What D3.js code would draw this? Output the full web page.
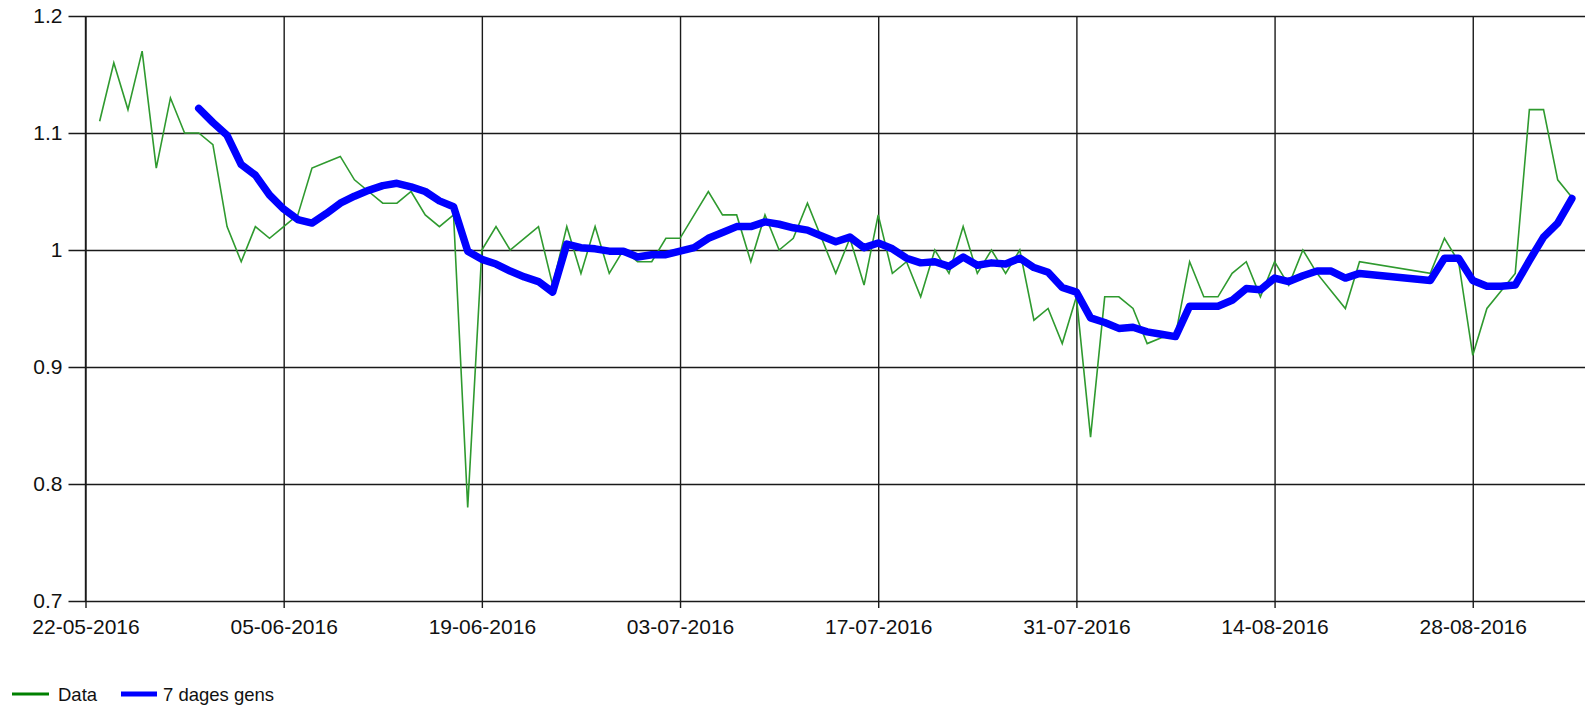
<!DOCTYPE html>
<html>
<head>
  <title>7 dages gens</title>
  <script src="https://cdn.jsdelivr.net/npm/d3@7.0.0/dist/d3.min.js"></script>
  <style>
    body { margin: 0; background: #fff; }
    text { font-family: "Liberation Sans", Arial, sans-serif; fill: #111; }
  </style>
</head>
<body>
  <div id="svgContainer"></div>

  <script>
    // Daily values (green line)
    var dataDates = [
      "2016-05-23","2016-05-24","2016-05-25","2016-05-26","2016-05-27","2016-05-28","2016-05-29",
      "2016-05-30","2016-05-31","2016-06-01","2016-06-02","2016-06-03","2016-06-04","2016-06-05",
      "2016-06-06","2016-06-07","2016-06-08","2016-06-09","2016-06-10","2016-06-11","2016-06-12",
      "2016-06-13","2016-06-14","2016-06-15","2016-06-16","2016-06-17","2016-06-18","2016-06-19",
      "2016-06-20","2016-06-21","2016-06-22","2016-06-23","2016-06-24","2016-06-25","2016-06-26",
      "2016-06-27","2016-06-28","2016-06-29","2016-06-30","2016-07-01","2016-07-02","2016-07-03",
      "2016-07-04","2016-07-05","2016-07-06","2016-07-07","2016-07-08","2016-07-09","2016-07-10",
      "2016-07-11","2016-07-12","2016-07-13","2016-07-14","2016-07-15","2016-07-16","2016-07-17",
      "2016-07-18","2016-07-19","2016-07-20","2016-07-21","2016-07-22","2016-07-23","2016-07-24",
      "2016-07-25","2016-07-26","2016-07-27","2016-07-28","2016-07-29","2016-07-30","2016-07-31",
      "2016-08-01","2016-08-02","2016-08-03","2016-08-04","2016-08-05","2016-08-06","2016-08-07",
      "2016-08-08","2016-08-09","2016-08-10","2016-08-11","2016-08-12","2016-08-13","2016-08-14",
      "2016-08-15","2016-08-16","2016-08-17","2016-08-18","2016-08-19","2016-08-20",
      "2016-08-25","2016-08-26","2016-08-27","2016-08-28","2016-08-29","2016-08-30","2016-08-31",
      "2016-09-01","2016-09-02","2016-09-03","2016-09-04"
    ];
    var dataValues = [
      1.11, 1.16, 1.12, 1.17, 1.07, 1.13, 1.10,
      1.10, 1.09, 1.02, 0.99, 1.02, 1.01, 1.02,
      1.03, 1.07, 1.075, 1.08, 1.06, 1.05, 1.04,
      1.04, 1.05, 1.03, 1.02, 1.03, 0.78, 1.00,
      1.02, 1.00, 1.01, 1.02, 0.97, 1.02, 0.98,
      1.02, 0.98, 1.00, 0.99, 0.99, 1.01, 1.01,
      1.03, 1.05, 1.03, 1.03, 0.99, 1.03, 1.00,
      1.01, 1.04, 1.01, 0.98, 1.01, 0.97, 1.03,
      0.98, 0.99, 0.96, 1.00, 0.98, 1.02, 0.98,
      1.00, 0.98, 1.00, 0.94, 0.95, 0.92, 0.96,
      0.84, 0.96, 0.96, 0.95, 0.92, 0.925, 0.927,
      0.99, 0.96, 0.96, 0.98, 0.99, 0.96, 0.99,
      0.97, 1.00, 0.98, 0.965, 0.95, 0.99,
      0.98, 1.01, 0.99, 0.91, 0.95, 0.965, 0.98,
      1.12, 1.12, 1.06, 1.045
    ];

    // 7 day average (blue line), starts 30-05-2016
    var avgDates = dataDates.slice(7);
    var avgValues = [
      1.121, 1.109, 1.098, 1.073, 1.064, 1.047, 1.035,
      1.026, 1.023, 1.031, 1.040, 1.046, 1.051, 1.055,
      1.057, 1.054, 1.050, 1.042, 1.037, 0.999, 0.992,
      0.988, 0.982, 0.977, 0.973, 0.964, 1.005, 1.002,
      1.001, 0.999, 0.999, 0.994, 0.996, 0.996, 0.999,
      1.002, 1.010, 1.015, 1.020, 1.020, 1.024, 1.022,
      1.019, 1.017, 1.012, 1.007, 1.011, 1.002, 1.006,
      1.001, 0.993, 0.989, 0.990, 0.986, 0.994, 0.987,
      0.989, 0.988, 0.993, 0.985, 0.981, 0.968, 0.964,
      0.942, 0.938, 0.933, 0.934, 0.930, 0.928, 0.926,
      0.952, 0.952, 0.952, 0.957, 0.967, 0.966, 0.976,
      0.973, 0.978, 0.982, 0.982, 0.976, 0.980,
      0.974, 0.993, 0.993, 0.974, 0.969, 0.969, 0.970,
      0.991, 1.011, 1.023, 1.044
    ];

    var xTicks = ["2016-05-22","2016-06-05","2016-06-19","2016-07-03","2016-07-17","2016-07-31","2016-08-14","2016-08-28"];
    var yTicks = [0.7, 0.8, 0.9, 1.0, 1.1, 1.2];
    var seriesNames = ["Data", "7 dages gens"];

    var width = 1585, height = 708;
    var plot = { left: 85.5, top: 16, bottom: 601, right: 1586 };

    var svg = d3.select("#svgContainer").append("svg")
      .attr("width", width)
      .attr("height", height);

    var parseDate = d3.timeParse("%Y-%m-%d");
    var formatDate = d3.timeFormat("%d-%m-%Y");

    var x = d3.scaleTime()
      .domain([parseDate("2016-05-22"), parseDate("2016-09-05")])
      .range([plot.left, plot.right]);
    var y = d3.scaleLinear()
      .domain([0.7, 1.2])
      .range([plot.bottom, plot.top]);

    // horizontal grid + y axis
    var yAxis = svg.append("g")
      .attr("transform", "translate(" + plot.left + ",0)")
      .call(d3.axisLeft(y)
        .tickValues(yTicks)
        .tickSize(17)
        .tickPadding(6)
        .tickFormat(function(d) { return d3.format("")(+d.toFixed(1)); }));
    yAxis.select(".domain").remove();
    yAxis.selectAll(".tick line")
      .attr("x1", width - plot.left)
      .attr("x2", -17)
      .attr("stroke", "#1a1a1a")
      .attr("stroke-width", 1.4);
    yAxis.selectAll(".tick text")
      .style("font-size", "21px")
      .attr("fill", "#111");

    // vertical grid + x axis
    var xAxis = svg.append("g")
      .attr("transform", "translate(0," + plot.bottom + ")")
      .call(d3.axisBottom(x)
        .tickValues(xTicks.map(parseDate))
        .tickSize(7)
        .tickPadding(11)
        .tickFormat(formatDate));
    xAxis.select(".domain").remove();
    xAxis.selectAll(".tick line")
      .attr("y1", plot.top - plot.bottom)
      .attr("y2", 7)
      .attr("stroke", "#1a1a1a")
      .attr("stroke-width", 1.4);
    xAxis.selectAll(".tick text")
      .style("font-size", "21px")
      .attr("fill", "#111");

    // left axis line
    svg.append("line")
      .attr("x1", plot.left).attr("x2", plot.left)
      .attr("y1", plot.top).attr("y2", plot.bottom)
      .attr("stroke", "#1a1a1a")
      .attr("stroke-width", 1.4);

    var dataPts = dataDates.map(function(d, i) { return { date: parseDate(d), value: dataValues[i] }; });
    var avgPts = avgDates.map(function(d, i) { return { date: parseDate(d), value: avgValues[i] }; });

    var line = d3.line()
      .x(function(d) { return x(d.date); })
      .y(function(d) { return y(d.value); });

    svg.append("path")
      .datum(dataPts)
      .attr("fill", "none")
      .attr("stroke", "#2f9a2f")
      .attr("stroke-width", 1.6)
      .attr("stroke-linejoin", "miter")
      .attr("d", line);

    svg.append("path")
      .datum(avgPts)
      .attr("fill", "none")
      .attr("stroke", "#0000ff")
      .attr("stroke-width", 7.5)
      .attr("stroke-linejoin", "round")
      .attr("stroke-linecap", "round")
      .attr("d", line);

    // legend
    var legend = svg.append("g").attr("transform", "translate(0,694)");
    legend.append("line")
      .attr("x1", 12).attr("x2", 49).attr("y1", 0).attr("y2", 0)
      .attr("stroke", "#008000").attr("stroke-width", 3);
    legend.append("text")
      .attr("x", 58).attr("y", 7)
      .style("font-size", "18.5px")
      .text(seriesNames[0]);
    legend.append("line")
      .attr("x1", 121).attr("x2", 157).attr("y1", 0).attr("y2", 0)
      .attr("stroke", "#0000ff").attr("stroke-width", 5);
    legend.append("text")
      .attr("x", 163).attr("y", 7)
      .style("font-size", "18.5px")
      .text(seriesNames[1]);
  </script>
</body>
</html>
